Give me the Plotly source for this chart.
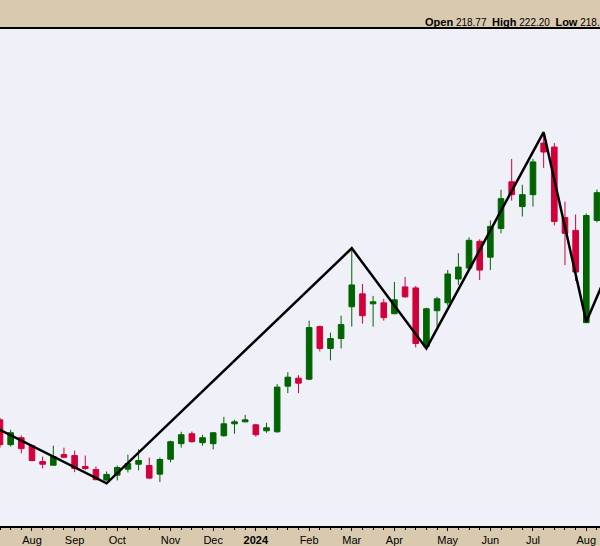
import pandas as pd
import plotly.graph_objects as go

# Weekly candles (week starting Monday)
dates = pd.date_range("2023-07-17", periods=57, freq="7D")

opens = [196.66, 193.91, 194.68, 193.80, 192.04, 191.63, 192.81, 192.70, 191.49, 191.16,
         189.98, 190.53, 191.19, 191.74, 191.60, 190.64, 192.29, 194.02, 195.12, 194.13,
         194.02, 194.90, 196.22, 196.44, 196.11, 195.45, 195.34, 200.40, 201.28, 201.17,
         207.00, 204.58, 205.68, 209.20, 210.63, 209.53, 209.64, 208.43, 211.40, 211.29,
         204.80, 208.76, 209.64, 212.28, 213.49, 216.46, 214.70, 217.89, 223.06, 220.31,
         221.63, 227.35, 226.91, 219.10, 217.67, 207.44, 218.77]
highs = [196.88, 195.56, 194.93, 193.91, 192.59, 193.80, 193.58, 193.25, 192.70, 191.49,
         190.94, 191.60, 192.81, 193.39, 192.48, 192.48, 194.35, 195.34, 195.37, 195.01,
         195.29, 196.99, 196.66, 197.21, 196.22, 196.33, 200.62, 201.94, 201.61, 207.66,
         207.11, 206.34, 208.21, 215.69, 211.73, 210.41, 210.08, 211.95, 212.50, 211.51,
         209.09, 210.30, 213.27, 215.14, 216.90, 216.68, 218.77, 222.18, 225.59, 222.73,
         225.59, 228.12, 227.35, 220.86, 219.43, 219.54, 222.20]
lows = [193.58, 193.69, 192.95, 192.04, 191.27, 191.60, 192.48, 190.86, 191.08, 189.95,
        189.89, 189.95, 190.83, 191.05, 190.09, 189.76, 191.96, 193.58, 194.13, 193.80,
        193.39, 194.79, 195.12, 196.39, 194.79, 195.23, 195.23, 199.63, 199.63, 201.06,
        204.25, 203.26, 204.58, 207.00, 207.33, 207.00, 207.66, 208.38, 210.19, 204.69,
        204.74, 207.00, 209.31, 211.62, 213.44, 212.17, 213.27, 217.34, 220.97, 219.21,
        220.31, 224.60, 218.22, 213.82, 212.06, 207.38, 218.55]
closes = [193.91, 195.23, 193.47, 192.15, 191.74, 192.59, 192.51, 191.27, 191.27, 190.03,
          190.61, 191.38, 191.82, 192.15, 190.20, 192.26, 194.24, 195.01, 194.24, 194.68,
          195.23, 196.22, 196.44, 196.66, 195.01, 195.78, 200.29, 201.39, 200.73, 206.89,
          204.58, 205.68, 207.22, 211.62, 208.21, 209.75, 207.99, 209.97, 210.30, 205.13,
          208.98, 210.08, 212.83, 213.60, 216.57, 213.27, 218.11, 221.19, 221.63, 221.63,
          225.26, 226.36, 218.66, 217.34, 213.05, 219.32, 221.85]

# ZigZag overlay pivots
zz_dates = ["2023-07-10", "2023-09-25", "2024-03-04", "2024-04-22", "2024-07-08",
            "2024-08-05", "2024-08-19"]
zz_values = [196.15, 189.62, 215.69, 204.58, 228.56, 207.55, 213.05]

# Month tick labels
tick_dates = ["2023-08-07", "2023-09-04", "2023-10-02", "2023-11-06", "2023-12-04",
              "2024-01-01", "2024-02-05", "2024-03-04", "2024-04-01", "2024-05-06",
              "2024-06-03", "2024-07-01", "2024-08-05"]
tick_labels = ["Aug", "Sep", "Oct", "Nov", "Dec", "<b>2024</b>", "Feb", "Mar", "Apr",
               "May", "Jun", "Jul", "Aug"]

header_names = ["Open", "High", "Low", "Close"]
header_values = ["218.77", "222.20", "218.55", "221.85"]
header_text = "&nbsp;&nbsp;".join(
    f'<b><span style="font-size:11px">{n}</span></b> {v}'
    for n, v in zip(header_names, header_values))

GREEN = "#006400"
RED = "#D2003A"
BEIGE = "#D9C9AE"
PLOTBG = "#F0F0F9"

fig = go.Figure()
fig.add_trace(go.Candlestick(
    x=dates, open=opens, high=highs, low=lows, close=closes,
    increasing=dict(line=dict(color=GREEN, width=1), fillcolor=GREEN),
    decreasing=dict(line=dict(color=RED, width=1), fillcolor=RED),
    whiskerwidth=0, showlegend=False, hoverinfo="skip",
))
fig.add_trace(go.Scatter(
    x=zz_dates, y=zz_values, mode="lines",
    line=dict(color="black", width=2.5), showlegend=False, hoverinfo="skip",
))

fig.update_layout(
    width=600, height=546,
    margin=dict(l=0, r=0, t=29, b=16, pad=0),
    paper_bgcolor=BEIGE, plot_bgcolor=PLOTBG,
    boxgap=0.25,
    font=dict(family="Liberation Sans, Arial, sans-serif", size=11, color="black"),
    xaxis=dict(
        type="date", range=["2023-07-17", "2024-08-14"],
        rangeslider=dict(visible=False),
        tickmode="array", tickvals=tick_dates, ticktext=tick_labels,
        ticks="outside", ticklen=3, tickcolor="black", tickwidth=1,
        minor=dict(tickmode="linear", tick0="2023-07-17", dtick=7 * 86400000,
                   ticks="outside", ticklen=2, tickcolor="black"),
        showgrid=False, zeroline=False,
        showline=True, linecolor="black", linewidth=1.5, mirror=True,
        tickfont=dict(size=11, color="black"),
        fixedrange=True,
    ),
    yaxis=dict(
        range=[184.89, 240.0], showticklabels=False, showgrid=False,
        zeroline=False, ticks="", showline=False, fixedrange=True,
    ),
    annotations=[dict(
        text=header_text, xref="paper", yref="paper",
        x=423 / 600, y=(530 - 21.5) / 501, xanchor="left", yanchor="middle",
        showarrow=False, font=dict(size=10, color="black"),
    )],
)

fig.write_html("out.html", config={"displayModeBar": False},
               post_script="document.body.style.margin='0';document.body.style.overflow='hidden';")
